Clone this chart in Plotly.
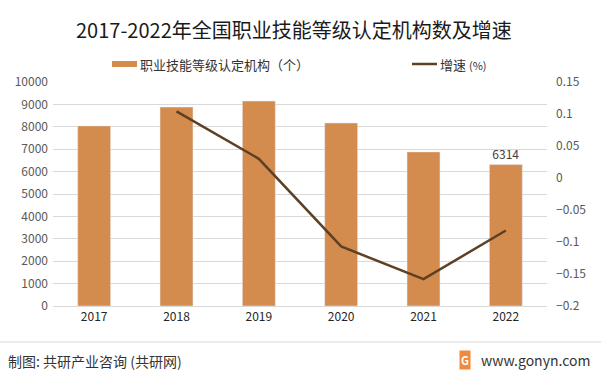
import plotly.graph_objects as go

years = ["2017", "2018", "2019", "2020", "2021", "2022"]
institutions = [8040, 8880, 9150, 8170, 6880, 6314]
growth = [None, 0.104, 0.030, -0.107, -0.158, -0.082]
bar_labels = ["", "", "", "", "", "6314"]

BAR_C = "#D48C4E"
LINE_C = "#5E4025"
FONT = "Noto Sans CJK SC"
W, H = 601, 373
L, R, T, B = 53, 54, 82, 67

fig = go.Figure()
fig.add_trace(go.Bar(
    x=years, y=institutions, marker_color=BAR_C, width=0.40,
    text=bar_labels, textposition="outside",
    textfont=dict(size=12, color="#404040", family=FONT),
    cliponaxis=False, showlegend=False, yaxis="y",
))
fig.add_trace(go.Scatter(
    x=years, y=growth, mode="lines", line=dict(color=LINE_C, width=2.5),
    showlegend=False, yaxis="y2",
))

pw, ph = W - L - R, H - T - B
def xp(p):
    return (p - L) / pw
def yp(p):
    return (H - B - p) / ph

shapes = [
    dict(type="rect", xref="paper", yref="paper", x0=xp(112), x1=xp(137),
         y0=yp(61), y1=yp(67), fillcolor=BAR_C, line_width=0),
    dict(type="line", xref="paper", yref="paper", x0=xp(412), x1=xp(437),
         y0=yp(64), y1=yp(64), line=dict(color=LINE_C, width=2.5)),
    dict(type="line", xref="paper", yref="paper", x0=xp(0), x1=xp(601),
         y0=yp(342), y1=yp(342), line=dict(color="#D9D9D9", width=1)),
]

annotations = [
    dict(text="2017-2022年全国职业技能等级认定机构数及增速", xref="paper", yref="paper",
         x=xp(294), y=yp(30), xanchor="center", yanchor="middle", showarrow=False,
         font=dict(size=20, color="#1a1a1a", family=FONT)),
    dict(text="职业技能等级认定机构（个）", xref="paper", yref="paper",
         x=xp(138), y=yp(64), xanchor="left", yanchor="middle", showarrow=False,
         font=dict(size=13, color="#333333", family=FONT)),
    dict(text="增速 <span style='font-size:11px'>(%)</span>", xref="paper", yref="paper",
         x=xp(438), y=yp(64), xanchor="left", yanchor="middle", showarrow=False,
         font=dict(size=13, color="#333333", family=FONT)),
    dict(text="制图: 共研产业咨询 (共研网)", xref="paper", yref="paper",
         x=xp(6), y=yp(361), xanchor="left", yanchor="middle", showarrow=False,
         font=dict(size=14, color="#333333", family=FONT)),
    dict(text="www.gonyn.com", xref="paper", yref="paper",
         x=xp(479), y=yp(360), xanchor="left", yanchor="middle", showarrow=False,
         font=dict(size=14, color="#333333", family=FONT)),
    dict(text="<b>G</b>", xref="paper", yref="paper",
         x=xp(465), y=yp(360), xanchor="center", yanchor="middle", showarrow=False,
         bgcolor="#F08A3C", font=dict(size=11, color="white", family=FONT),
         borderpad=1),
]

fig.update_layout(
    width=W, height=H, margin=dict(l=L, r=R, t=T, b=B),
    paper_bgcolor="white", plot_bgcolor="white",
    font=dict(family=FONT, size=11, color="#595959"),
    xaxis=dict(showgrid=False, showline=True, linecolor="#D9D9D9",
               tickfont=dict(size=12, color="#262626"), ticks=""),
    yaxis=dict(range=[0, 10000], dtick=1000, showgrid=True, gridcolor="#D9D9D9",
               zeroline=False, tickfont=dict(size=12, color="#595959"), ticks="",
               tickformat="d", ticklabelstandoff=4),
    yaxis2=dict(range=[-0.2, 0.15], dtick=0.05, overlaying="y", side="right",
                showgrid=False, zeroline=False, tickfont=dict(size=12, color="#595959"),
                tickformat="~g", ticklabelstandoff=8),
    shapes=shapes, annotations=annotations, showlegend=False,
)

fig.write_html("out.html", config={"displayModeBar": False},
               post_script="document.body.style.margin='0';document.body.style.overflow='hidden';")
